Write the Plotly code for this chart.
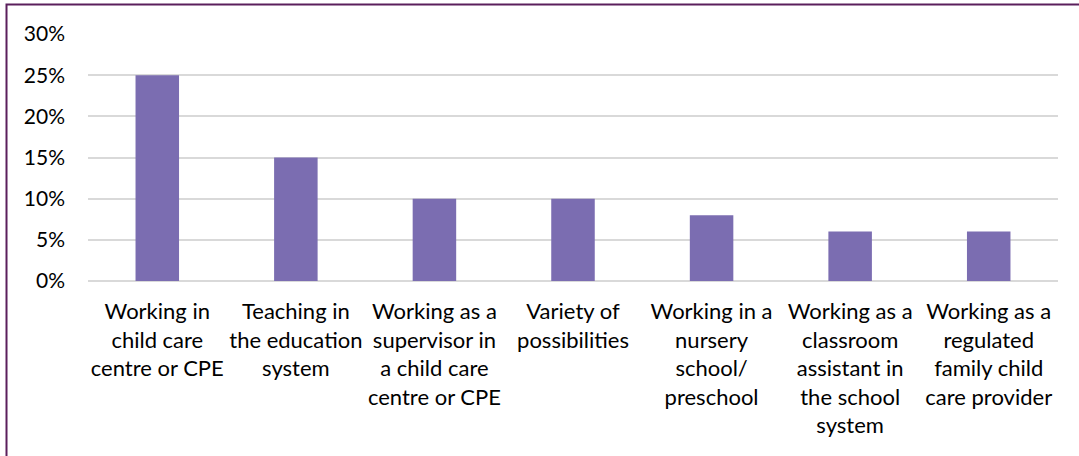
import plotly.graph_objects as go

categories = [
    "Working in<br>child care<br>centre or CPE",
    "Teaching in<br>the education<br>system",
    "Working as a<br>supervisor in<br>a child care<br>centre or CPE",
    "Variety of<br>possibilities",
    "Working in a<br>nursery<br>school/<br>preschool",
    "Working as a<br>classroom<br>assistant in<br>the school<br>system",
    "Working as a<br>regulated<br>family child<br>care provider",
]
values = [0.25, 0.15, 0.10, 0.10, 0.08, 0.06, 0.06]
y_ticks = [0, 0.05, 0.10, 0.15, 0.20, 0.25, 0.30]

W, H = 1079, 456
L, R, T, B = 88, W - 1058, 34, H - 281
pw, ph = W - L - R, H - T - B

fig = go.Figure(go.Bar(x=categories, y=values, marker=dict(color="#7B6DB1", line=dict(width=0)),
                       hoverinfo="x+y"))

fig.update_layout(
    width=W, height=H,
    margin=dict(l=L, r=R, t=T, b=B, autoexpand=False),
    paper_bgcolor="white", plot_bgcolor="white",
    bargap=0.686,
    showlegend=False,
    font=dict(family="Lato, Calibri, sans-serif", size=22, color="#000000"),
    xaxis=dict(showgrid=False, showline=False, ticks="", tickangle=0,
               tickfont=dict(size=22), ticklabelstandoff=15),
    yaxis=dict(range=[0, 0.30], tickvals=y_ticks, tickformat=".0%",
               showgrid=True, gridcolor="#D9D9D9", gridwidth=1.5,
               zeroline=True, zerolinecolor="#D9D9D9", zerolinewidth=1.5,
               showline=False, ticks="", tickfont=dict(size=21), ticklabelstandoff=22),
    shapes=[dict(type="rect", xref="paper", yref="paper",
                 x0=(6.5 - L) / pw, x1=(W + 10 - L) / pw,
                 y0=-(H + 10 - (T + ph)) / ph, y1=1 + (T - 4.5) / ph,
                 line=dict(color="#5B1F5C", width=2), layer="below")],
)

fig.write_html("out.html", config={"displayModeBar": False},
               post_script="document.body.style.margin='0';document.body.style.overflow='hidden';")
